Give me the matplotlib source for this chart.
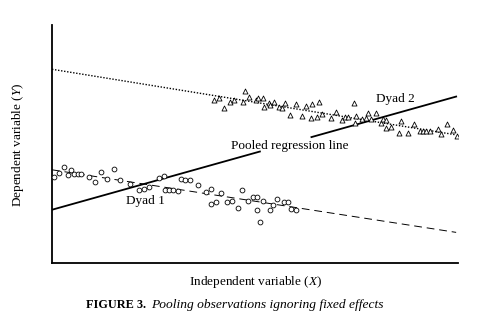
import numpy as np
import matplotlib.pyplot as plt

plt.rcParams['font.family'] = ['Liberation Serif', 'DejaVu Serif']
plt.rcParams['mathtext.fontset'] = 'custom'
plt.rcParams['mathtext.it'] = 'Liberation Serif:italic'
plt.rcParams['mathtext.rm'] = 'Liberation Serif'

# Dyad 1 observations (circles)
dyad1_x = [0.5, 2.0, 3.5, 4.7, 5.7, 6.5, 7.7, 8.7, 11.0, 13.0, 14.8, 16.5, 18.5,
           20.5, 23.3, 26.3, 27.7, 29.3, 32.3, 33.7, 34.0, 35.3, 36.5, 37.8,
           38.7, 40.0, 41.5, 44.0, 46.3, 47.8, 47.7, 49.3, 50.8, 52.7, 54.0,
           56.0, 57.0, 59.0, 60.3, 61.5, 61.5, 62.5, 63.5, 65.5, 66.3, 67.6,
           69.8, 70.8, 72.0, 73.3]
dyad1_y = [25.7, 27.0, 28.9, 26.5, 27.8, 26.8, 26.8, 26.8, 25.7, 24.3, 27.2, 25.2,
           28.3, 25.0, 23.6, 22.0, 22.3, 22.7, 25.6, 26.2, 22.0, 22.0, 21.8,
           21.7, 25.2, 24.8, 25.0, 23.3, 21.3, 22.3, 17.7, 18.2, 21.0, 18.4,
           18.7, 16.6, 21.9, 18.7, 19.9, 19.7, 16.0, 12.3, 18.7, 15.8, 17.5,
           19.3, 18.2, 18.2, 16.1, 16.0]

# Dyad 2 observations (triangles)
dyad2_x = [48.8, 50.3, 51.7, 53.5, 54.8, 57.5, 58.0, 59.3, 61.3, 62.0, 63.3, 63.8,
           65.3, 65.5, 66.8, 68.3, 69.0, 70.0, 71.5, 73.3, 75.1, 76.5, 78.0,
           78.3, 79.8, 80.3, 81.3, 84.0, 85.5, 87.3, 88.0, 89.0, 90.8, 91.0,
           91.5, 93.3, 94.5, 95.0, 95.8, 97.5, 99.0, 99.5, 100.3, 100.5, 102.0,
           104.3, 105.0, 107.0, 108.7, 110.5, 111.5, 112.5, 113.7, 116.0, 117.0,
           118.7, 120.5, 121.7]
dyad2_y = [48.9, 49.5, 46.7, 48.4, 49.0, 48.5, 51.8, 49.8, 49.0, 49.5, 49.7, 46.9,
           48.0, 47.5, 48.3, 46.8, 46.5, 48.2, 44.6, 47.8, 44.1, 47.3, 43.7,
           47.7, 44.0, 48.5, 44.7, 43.7, 45.5, 43.1, 44.0, 43.8, 48.0, 42.0,
           44.3, 43.3, 43.5, 45.0, 43.3, 45.1, 42.2, 43.2, 40.7, 43.0, 41.0,
           39.0, 42.7, 39.2, 41.8, 39.6, 39.6, 39.6, 39.6, 40.3, 38.8, 41.7,
           40.0, 38.3]

# fitted lines: (x0, y0) -> (x1, y1)
fit1_x = [0.0, 121.5]
fit1_y = [28.0, 9.2]
fit2_x = [0.0, 121.5]
fit2_y = [58.2, 38.5]
pooled_x = [0.0, 121.5]
pooled_y = [16.0, 50.0]
pooled_gap = [62.5, 78.0]

fig = plt.figure(figsize=(4.86, 3.29), dpi=100)
ax = fig.add_axes([0.107, 0.2006, 0.835, 0.7234])

ax.plot(fit2_x, fit2_y, color='black', lw=1.0, linestyle=(0, (1, 1.2)))
ax.plot(fit1_x, fit1_y, color='black', lw=0.7, linestyle=(0, (8, 5)))

# pooled line, broken where its label sits
slope = (pooled_y[1] - pooled_y[0]) / (pooled_x[1] - pooled_x[0])
xa = np.array([pooled_x[0], pooled_gap[0]])
xb = np.array([pooled_gap[1], pooled_x[1]])
ax.plot(xa, pooled_y[0] + slope * xa, color='black', lw=1.3)
ax.plot(xb, pooled_y[0] + slope * xb, color='black', lw=1.3)

ax.scatter(dyad1_x, dyad1_y, s=12, marker='o', facecolors='white',
           edgecolors='black', linewidths=0.6, zorder=3)
ax.scatter(dyad2_x, dyad2_y, s=13, marker='^', facecolors='white',
           edgecolors='black', linewidths=0.6, zorder=3)

ax.text(71.5, 35.2, 'Pooled regression line', fontsize=9.5, ha='center', va='center')
ax.text(103.3, 49.2, 'Dyad 2', fontsize=9.5, ha='center', va='center')
ax.text(28.0, 18.5, 'Dyad 1', fontsize=9.5, ha='center', va='center')

ax.set_xlim(0, 122)
ax.set_ylim(0, 71.5)
ax.set_xticks([])
ax.set_yticks([])
for side in ['top', 'right']:
    ax.spines[side].set_visible(False)
for side in ['left', 'bottom']:
    ax.spines[side].set_linewidth(1.3)

fig.text(0.525, 0.143, 'Independent variable ($X$)', fontsize=9.5,
         ha='center', va='center')
fig.text(0.037, 0.559, 'Dependent variable ($Y$)', fontsize=9.5,
         ha='center', va='center', rotation=90)
fig.text(0.176, 0.073, 'FIGURE 3.', fontsize=8.8, fontweight='bold',
         ha='left', va='center')
fig.text(0.311, 0.073, 'Pooling observations ignoring fixed effects',
         fontsize=9.7, style='italic', ha='left', va='center')

fig.savefig('out.png', dpi=100)
